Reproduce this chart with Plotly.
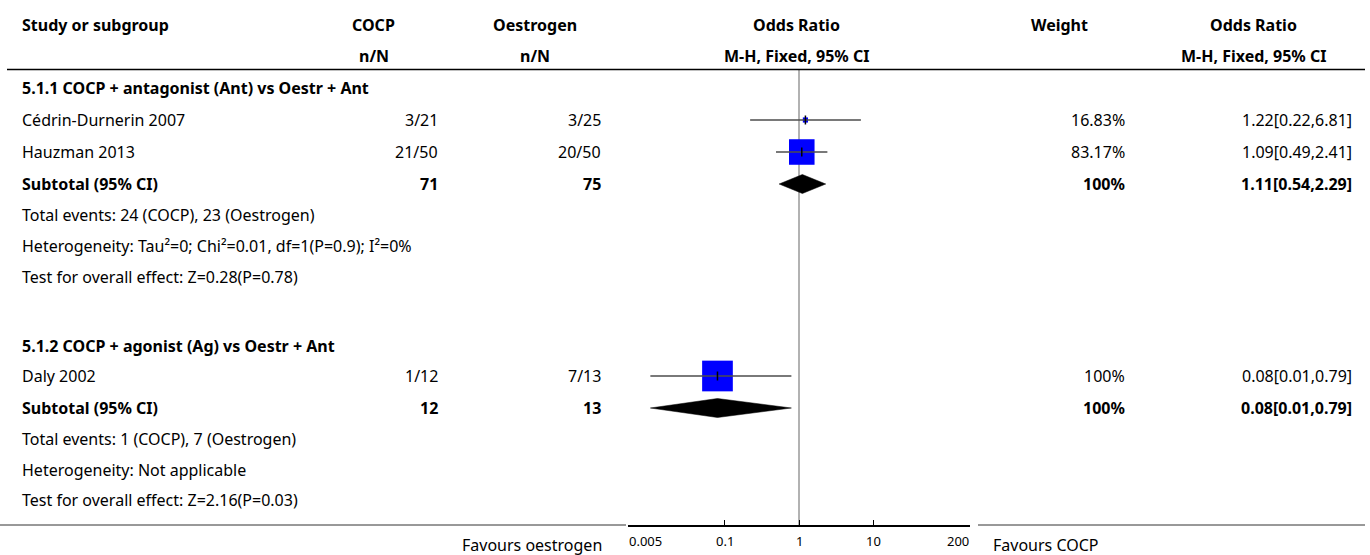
import math
import plotly.graph_objects as go

# ---- data -------------------------------------------------------------
group_titles = ["5.1.1 COCP + antagonist (Ant) vs Oestr + Ant",
                "5.1.2 COCP + agonist (Ag) vs Oestr + Ant"]

study_names = ["Cédrin-Durnerin 2007", "Hauzman 2013", "Daly 2002"]
cocp_nN = ["3/21", "21/50", "1/12"]
oest_nN = ["3/25", "20/50", "7/13"]
or_est = [1.22, 1.09, 0.08]
or_lo = [0.22, 0.49, 0.01]
or_hi = [6.81, 2.41, 0.79]
weights = [16.83, 83.17, 100.0]

sub_cocp_total = [71, 12]
sub_oest_total = [75, 13]
sub_or = [1.11, 0.08]
sub_lo = [0.54, 0.01]
sub_hi = [2.29, 0.79]
sub_weight = [100.0, 100.0]

total_events = ["Total events: 24 (COCP), 23 (Oestrogen)",
                "Total events: 1 (COCP), 7 (Oestrogen)"]
heterogeneity = ["Heterogeneity: Tau²=0; Chi²=0.01, df=1(P=0.9); I²=0%",
                 "Heterogeneity: Not applicable"]
overall_test = ["Test for overall effect: Z=0.28(P=0.78)",
                "Test for overall effect: Z=2.16(P=0.03)"]

tick_values = [0.005, 0.1, 1, 10, 200]
tick_labels = ["0.005", "0.1", "1", "10", "200"]
favours_left = "Favours oestrogen"
favours_right = "Favours COCP"

# ---- layout constants (pixels) ---------------------------------------
W, H = 1370, 555
FONT = "Noto Sans"
FS = 16
AXIS_Y = 525.5
HEADER_LINE_Y = 69.5
PLOT_X0, PLOT_X1 = 628, 970
LOG_MIN, LOG_MAX = -2.30103, 2.30103
PX_PER_DECADE = (PLOT_X1 - PLOT_X0) / (LOG_MAX - LOG_MIN)
SQUARE_PX_PER_WEIGHT = 0.307

# vertical pixel position of every row
group_title_y = [88, 346]
study_y = [120, 152, 376]
subtotal_y = [184, 408]
events_y = [215, 439]
het_y = [246, 470]
test_y = [277, 500]

# column anchors
COL_STUDY = 22
COL_COCP_C, COL_COCP_R = 374, 438
COL_OEST_C, COL_OEST_R = 535, 601
COL_OR_C = 797
COL_W_C, COL_W_R = 1059, 1125
COL_OR2_C, COL_OR2_R = 1253, 1352


def fmt_ci(e, lo, hi):
    return f"{e:.2f}[{lo:.2f},{hi:.2f}]"


def fmt_w(w):
    return "100%" if w == 100 else f"{w:.2f}%"


fig = go.Figure()
annotations = []


def txt(x, y, s, anchor="left", bold=False, size=FS):
    annotations.append(dict(
        x=x / W, y=y, xref="paper", yref="y", text=f"<b>{s}</b>" if bold else s,
        xanchor=anchor, yanchor="middle", showarrow=False,
        font=dict(family=FONT, size=size, color="#000000"), borderpad=0, borderwidth=0))


# header
txt(COL_STUDY, 25, "Study or subgroup", bold=True)
txt(COL_COCP_C, 25, "COCP", "center", True)
txt(COL_COCP_C, 56, "n/N", "center", True)
txt(COL_OEST_C, 25, "Oestrogen", "center", True)
txt(COL_OEST_C, 56, "n/N", "center", True)
txt(COL_OR_C, 25, "Odds Ratio", "center", True)
txt(COL_OR_C, 56, "M-H, Fixed, 95% CI", "center", True)
txt(COL_W_C, 25, "Weight", "center", True)
txt(COL_OR2_C, 25, "Odds Ratio", "center", True)
txt(COL_OR2_C, 56, "M-H, Fixed, 95% CI", "center", True)

# group blocks
for g in range(2):
    txt(COL_STUDY, group_title_y[g], group_titles[g], bold=True)
    txt(COL_STUDY, subtotal_y[g], "Subtotal (95% CI)", bold=True)
    txt(COL_COCP_R, subtotal_y[g], str(sub_cocp_total[g]), "right", True)
    txt(COL_OEST_R, subtotal_y[g], str(sub_oest_total[g]), "right", True)
    txt(COL_W_R, subtotal_y[g], fmt_w(sub_weight[g]), "right", True)
    txt(COL_OR2_R, subtotal_y[g], fmt_ci(sub_or[g], sub_lo[g], sub_hi[g]), "right", True)
    txt(COL_STUDY, events_y[g], total_events[g])
    txt(COL_STUDY, het_y[g], heterogeneity[g])
    txt(COL_STUDY, test_y[g], overall_test[g])

# study rows
for i, name in enumerate(study_names):
    y = study_y[i]
    txt(COL_STUDY, y, name)
    txt(COL_COCP_R, y, cocp_nN[i], "right")
    txt(COL_OEST_R, y, oest_nN[i], "right")
    txt(COL_W_R, y, fmt_w(weights[i]), "right")
    txt(COL_OR2_R, y, fmt_ci(or_est[i], or_lo[i], or_hi[i]), "right")

# footer
txt(602, 545, favours_left, "right")
txt(993, 545, favours_right, "left")

# axis tick labels: end labels sit inside the axis span
for k, (v, lab) in enumerate(zip(tick_values, tick_labels)):
    anchor = "left" if k == 0 else ("right" if k == len(tick_values) - 1 else "center")
    annotations.append(dict(
        x=math.log10(v), y=541, xref="x", yref="y", text=lab,
        xanchor=anchor, yanchor="middle", showarrow=False, borderpad=0,
        font=dict(family=FONT, size=13, color="#000000")))

# ---- marks -----------------------------------------------------------
# weight squares (side length proportional to study weight)
for i in range(len(study_names)):
    half = weights[i] * SQUARE_PX_PER_WEIGHT / 2
    f = 10 ** (half / PX_PER_DECADE)
    xl, xr = or_est[i] / f, or_est[i] * f
    yt, yb = study_y[i] - half, study_y[i] + half
    fig.add_trace(go.Scatter(
        x=[xl, xr, xr, xl, xl], y=[yt, yt, yb, yb, yt],
        mode="lines", fill="toself", fillcolor="#0000FF",
        line=dict(color="#0000FF", width=0), hoverinfo="skip", showlegend=False))

# confidence interval lines
for i in range(len(study_names)):
    fig.add_trace(go.Scatter(
        x=[or_lo[i], or_hi[i]], y=[study_y[i], study_y[i]], mode="lines",
        line=dict(color="#4d4d4d", width=1.5), hoverinfo="skip", showlegend=False))

# point estimate ticks
for i in range(len(study_names)):
    fig.add_trace(go.Scatter(
        x=[or_est[i], or_est[i]], y=[study_y[i] - 4.5, study_y[i] + 4.5], mode="lines",
        line=dict(color="#000000", width=1.5), hoverinfo="skip", showlegend=False))

# pooled diamonds
for g in range(2):
    yc = subtotal_y[g]
    fig.add_trace(go.Scatter(
        x=[sub_lo[g], sub_or[g], sub_hi[g], sub_or[g], sub_lo[g]],
        y=[yc, yc - 9.5, yc, yc + 9.5, yc],
        mode="lines", fill="toself", fillcolor="#000000",
        line=dict(color="#000000", width=0.5), hoverinfo="skip", showlegend=False))

shapes = [
    # line of no effect
    dict(type="line", xref="x", yref="y", x0=1, x1=1, y0=HEADER_LINE_Y, y1=AXIS_Y,
         line=dict(color="#999999", width=1.5), layer="below"),
    # header rule
    dict(type="line", xref="paper", yref="y", x0=7 / W, x1=1365 / W,
         y0=HEADER_LINE_Y, y1=HEADER_LINE_Y, line=dict(color="#000000", width=1.5)),
    # bottom rules either side of the axis
    dict(type="line", xref="paper", yref="y", x0=0, x1=626 / W,
         y0=525, y1=525, line=dict(color="#333333", width=1)),
    dict(type="line", xref="paper", yref="y", x0=978 / W, x1=1365 / W,
         y0=525, y1=525, line=dict(color="#333333", width=1)),
]

fig.update_layout(
    width=W, height=H,
    margin=dict(l=0, r=0, t=0, b=0, autoexpand=False),
    paper_bgcolor="#ffffff", plot_bgcolor="rgba(0,0,0,0)",
    showlegend=False,
    annotations=annotations,
    shapes=shapes,
    xaxis=dict(
        type="log", domain=[PLOT_X0 / W, PLOT_X1 / W],
        range=[LOG_MIN, LOG_MAX],
        anchor="free", position=(H - AXIS_Y) / H,
        tickvals=tick_values, showticklabels=False,
        ticks="inside", ticklen=5, tickwidth=1, tickcolor="#000000",
        showline=True, linecolor="#000000", linewidth=2,
        showgrid=False, zeroline=False,
    ),
    yaxis=dict(
        domain=[0, 1], range=[H, 0], visible=False,
        anchor="free", position=0, showgrid=False, zeroline=False,
    ),
)

fig.write_html("out.html")
